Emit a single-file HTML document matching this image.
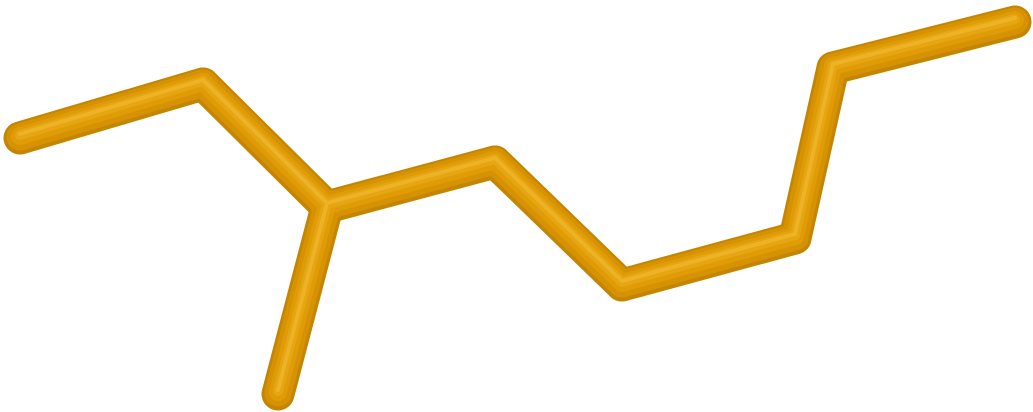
<!DOCTYPE html>
<html>
<head>
<meta charset="utf-8">
<style>
  html, body { margin: 0; padding: 0; background: #ffffff; }
  svg { display: block; }
</style>
</head>
<body>
<svg id="mol" width="1033" height="412" viewBox="0 0 1033 412" xmlns="http://www.w3.org/2000/svg">
</svg>
<script>
// Atom positions (skeleton of the molecule) and bonds between them
const atomX = [20, 203, 327, 495, 622, 795, 833, 1015, 278];
const atomY = [138, 84, 207, 162, 285, 238, 68, 22, 394];
const bondFrom = [0, 1, 2, 3, 4, 5, 6, 2];
const bondTo   = [1, 2, 3, 4, 5, 6, 7, 8];

const svg = document.getElementById('mol');
const NS = 'http://www.w3.org/2000/svg';
const layers = [
  { w: 33, c: '#c48500', dy: 0 },
  { w: 27, c: '#d69200', dy: -1 },
  { w: 18, c: '#df9c06', dy: -2 },
  { w: 10, c: '#e6a512', dy: -3 },
  { w: 4,  c: '#eeb226', dy: -4 }
];
layers.forEach((L, li) => {
  const g = document.createElementNS(NS, 'g');
  
  
  for (let i = 0; i < bondFrom.length; i++) {
    const a = bondFrom[i], b = bondTo[i];
    const ln = document.createElementNS(NS, 'line');
    
    
    ln.setAttribute('x1', atomX[a]);
    ln.setAttribute('y1', atomY[a] + L.dy);
    ln.setAttribute('x2', atomX[b]);
    ln.setAttribute('y2', atomY[b] + L.dy);
    ln.setAttribute('stroke', L.c);
    ln.setAttribute('stroke-width', L.w);
    ln.setAttribute('stroke-linecap', 'round');
    g.appendChild(ln);
  }
  svg.appendChild(g);
});
</script>
</body>
</html>
